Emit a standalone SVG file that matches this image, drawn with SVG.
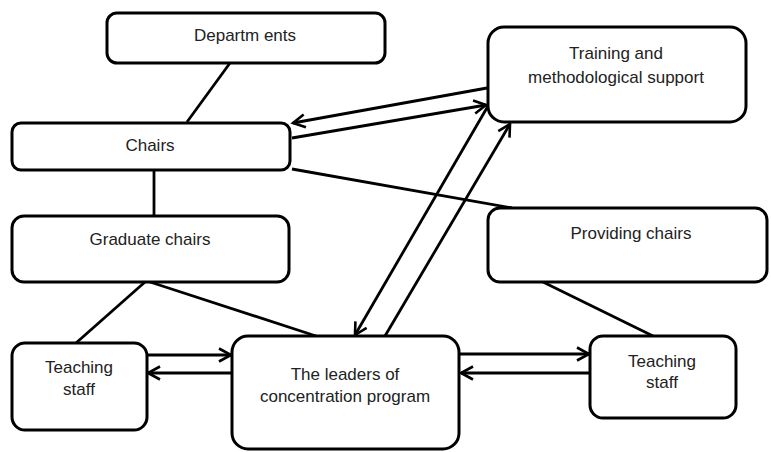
<svg xmlns="http://www.w3.org/2000/svg" width="771" height="452" viewBox="0 0 771 452">
<style>
.box{fill:#fff;stroke:#000;stroke-width:3}
.t{font-family:"Liberation Sans",Arial,sans-serif;font-size:17px;fill:#222;text-anchor:middle}
.c{stroke:#000;stroke-width:2.8;fill:none}
.a{stroke:#000;stroke-width:2.8;fill:none;marker-end:url(#arr)}
</style>
<defs>
<marker id="arr" markerWidth="18" markerHeight="18" refX="14" refY="8" orient="auto" markerUnits="userSpaceOnUse">
<path d="M2,1.5 L14,8 L2,14.5" fill="none" stroke="#000" stroke-width="2.6"/>
</marker>
</defs>
<rect width="771" height="452" fill="#fff"/>
<g id="connectors">
<line class="c" x1="230" y1="63" x2="187" y2="122"/>
<line class="c" x1="154" y1="170" x2="154" y2="216"/>
<line class="c" x1="292" y1="169" x2="512" y2="208"/>
<line class="c" x1="145" y1="282" x2="76" y2="343"/>
<line class="c" x1="150" y1="282" x2="316" y2="336"/>
<line class="c" x1="543" y1="282" x2="653" y2="336"/>
<line class="a" x1="487" y1="88" x2="293" y2="123"/>
<line class="a" x1="292" y1="138" x2="486" y2="105"/>
<line class="a" x1="488" y1="106" x2="355" y2="335"/>
<line class="a" x1="385" y1="336" x2="510" y2="124"/>
<line class="a" x1="147" y1="355" x2="231" y2="355"/>
<line class="a" x1="232" y1="373" x2="148" y2="373"/>
<line class="a" x1="459" y1="354" x2="589" y2="354"/>
<line class="a" x1="590" y1="373" x2="461" y2="373"/>
</g>
<g id="departments">
<rect class="box" x="107" y="13" width="278" height="50" rx="10"/>
<text class="t" x="245" y="41">Departm ents</text>
</g>
<g id="training">
<rect class="box" x="488" y="27" width="258" height="95" rx="16"/>
<text class="t" x="616" y="59">Training and</text>
<text class="t" x="616" y="83">methodological support</text>
</g>
<g id="chairs">
<rect class="box" x="12" y="123" width="278" height="47" rx="9"/>
<text class="t" x="150" y="151">Chairs</text>
</g>
<g id="graduate">
<rect class="box" x="12" y="216" width="277" height="66" rx="12"/>
<text class="t" x="150" y="245">Graduate chairs</text>
</g>
<g id="providing">
<rect class="box" x="488" y="208" width="279" height="74" rx="12"/>
<text class="t" x="631" y="239">Providing chairs</text>
</g>
<g id="teaching-left">
<rect class="box" x="12" y="343" width="135" height="87" rx="13"/>
<text class="t" x="79" y="373">Teaching</text>
<text class="t" x="79" y="395">staff</text>
</g>
<g id="leaders">
<rect class="box" x="232" y="336" width="227" height="113" rx="16"/>
<text class="t" x="345" y="380">The leaders of</text>
<text class="t" x="345" y="402">concentration program</text>
</g>
<g id="teaching-right">
<rect class="box" x="590" y="336" width="146" height="82" rx="13"/>
<text class="t" x="662" y="367">Teaching</text>
<text class="t" x="662" y="388">staff</text>
</g>
</svg>
